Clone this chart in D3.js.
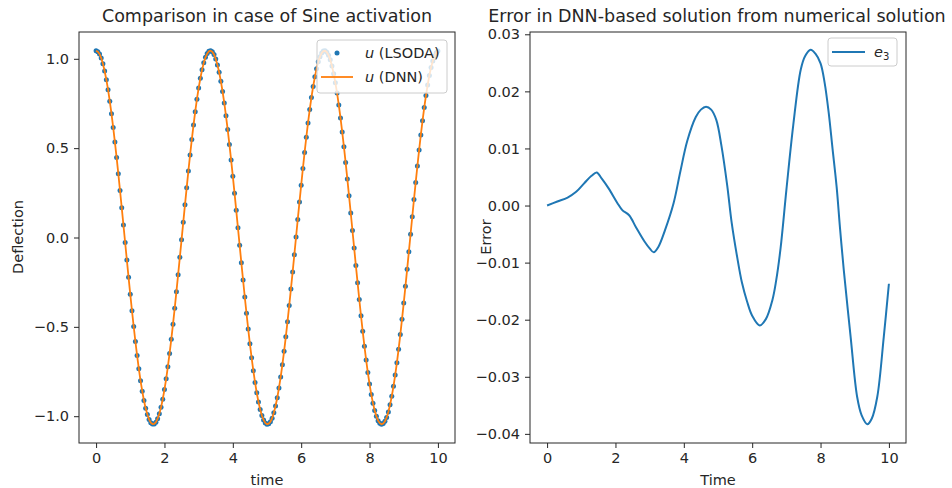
<!DOCTYPE html>
<html>
<head>
<meta charset="utf-8">
<script src="https://cdn.jsdelivr.net/npm/d3@7"></script>
<style>
  html, body { margin: 0; padding: 0; background: #fff; }
  svg { display: block; font-family: "DejaVu Sans", sans-serif; }
</style>
</head>
<body>
<svg id="chart" width="952" height="488"></svg>
<script>
// ---------------- DATA ----------------
// sampling step of the LSODA output (t from 0 to 10)
const tStep = 0.05;
// u (LSODA) deflection values (201 samples)
const uLsoda = [
  1.045,1.040,1.027,1.004,0.972,0.932,0.883,0.827,0.763,0.693,
  0.616,0.534,0.448,0.357,0.263,0.167,0.070,-0.028,-0.126,-0.223,
  -0.318,-0.410,-0.498,-0.582,-0.661,-0.734,-0.801,-0.860,-0.912,-0.956,
  -0.991,-1.018,-1.036,-1.044,-1.043,-1.034,-1.014,-0.986,-0.950,-0.905,
  -0.851,-0.791,-0.723,-0.649,-0.570,-0.485,-0.396,-0.303,-0.208,-0.111,
  -0.013,0.085,0.183,0.278,0.372,0.462,0.548,0.629,0.704,0.774,
  0.836,0.891,0.939,0.978,1.008,1.029,1.042,
  1.045,1.039,1.024,0.999,0.966,0.925,0.875,0.817,0.753,0.681,
  0.604,0.521,0.434,0.343,0.248,0.152,0.054,-0.044,-0.142,-0.238,
  -0.333,-0.424,-0.512,-0.595,-0.673,-0.745,-0.811,-0.869,-0.920,-0.962,
  -0.996,-1.021,-1.038,-1.045,-1.042,-1.031,-1.011,-0.981,-0.943,-0.897,
  -0.842,-0.781,-0.712,-0.637,-0.556,-0.471,-0.381,-0.288,-0.193,-0.096,
  0.003,0.101,0.198,0.293,0.386,0.476,0.561,0.641,0.716,0.784,
  0.845,0.899,0.945,0.983,1.012,1.032,1.043,
  1.045,1.037,1.020,0.995,0.960,0.917,0.866,0.808,0.742,0.669,
  0.591,0.508,0.420,0.328,0.233,0.137,0.039,-0.059,-0.157,-0.253,
  -0.347,-0.438,-0.525,-0.608,-0.685,-0.756,-0.820,-0.878,-0.927,-0.968,
  -1.001,-1.025,-1.039,-1.045,-1.041,-1.028,-1.007,-0.976,-0.936,-0.889,
  -0.833,-0.770,-0.701,-0.625,-0.543,-0.457,-0.367,-0.273,-0.178,-0.080,
  0.018,0.116,0.213,0.308,0.400,0.489,0.574,0.653,0.727,0.794,
  0.854,0.907,0.952,0.988,1.016,1.034,1.044
];
// u (DNN) — visually coincides with the LSODA curve
const uDnn = uLsoda;

// error curve e3 (time, value)
const errTime = [0.00,0.30,0.60,0.85,1.10,1.30,1.45,1.60,1.80,2.05,2.20,2.40,2.60,2.85,3.00,3.12,3.25,3.45,3.70,3.90,
  4.10,4.35,4.50,4.65,4.80,4.95,5.10,5.27,5.40,5.56,5.70,5.85,6.00,6.22,6.40,6.59,6.70,6.83,7.00,7.20,
  7.42,7.55,7.71,7.85,8.00,8.12,8.24,8.35,8.47,8.57,8.68,8.88,9.07,9.20,9.37,9.50,9.66,9.85,10.00];
const errValue = [0.0000,0.0007,0.0014,0.0024,0.0040,0.0052,0.0058,0.0047,0.0030,0.0005,-0.0008,-0.0017,-0.0038,-0.0063,-0.0075,-0.0082,-0.0073,-0.0043,0.0004,0.0060,
  0.0113,0.0155,0.0168,0.0173,0.0168,0.0150,0.0105,0.0035,-0.0030,-0.0090,-0.0135,-0.0168,-0.0193,-0.0210,-0.0199,-0.0166,-0.0132,-0.0075,0.0027,0.0140,
  0.0238,0.0262,0.0273,0.0266,0.0249,0.0215,0.0162,0.0100,0.0033,-0.0040,-0.0113,-0.0230,-0.0335,-0.0367,-0.0383,-0.0373,-0.0335,-0.0230,-0.0137];

// ticks
const xTicks = [0, 2, 4, 6, 8, 10];
const leftYTicks = [-1.0, -0.5, 0.0, 0.5, 1.0];
const rightYTicks = [-0.04, -0.03, -0.02, -0.01, 0.00, 0.01, 0.02, 0.03];

// texts
const leftTitle = "Comparison in case of Sine activation";
const rightTitle = "Error in DNN-based solution from numerical solution";

// ---------------- DRAWING ----------------
const svg = d3.select("#chart");
const blue = "#1f77b4", orange = "#ff7f0e", ink = "#262626";
const tickFont = 14.5, titleFont = 17.5;
const plotTop = 32, plotBottom = 443;
const fmtMinus = s => s.replace("-", "\u2212");

function panel(x0, x1, yDomain, yTicks, yFmt) {
  const x = d3.scaleLinear().domain([-0.5, 10.5]).range([x0, x1]);
  const y = d3.scaleLinear().domain(yDomain).range([plotBottom, plotTop]);
  const g = svg.append("g");
  const xAxis = d3.axisBottom(x).tickValues(xTicks).tickFormat(d3.format("d")).tickSize(5).tickPadding(5);
  const yAxis = d3.axisLeft(y).tickValues(yTicks).tickFormat(d => fmtMinus(yFmt(d))).tickSize(5).tickPadding(5);
  const gx = g.append("g").attr("transform", `translate(0,${plotBottom})`).call(xAxis);
  const gy = g.append("g").attr("transform", `translate(${x0},0)`).call(yAxis);
  [gx, gy].forEach(a => {
    a.select(".domain").remove();
    a.selectAll("line").attr("stroke", ink).attr("stroke-width", 1);
    a.selectAll("text").attr("fill", ink).style("font-size", tickFont + "px").style("font-family", "DejaVu Sans");
  });
  return { x, y, g };
}

function frame(p, x0, x1) {
  p.g.append("rect").attr("x", x0).attr("y", plotTop).attr("width", x1 - x0).attr("height", plotBottom - plotTop)
    .attr("fill", "none").attr("stroke", ink).attr("stroke-width", 1);
}

// ---- Left panel ----
const L = panel(79, 455, [-1.15, 1.15], leftYTicks, d3.format(".1f"));
const tVals = uLsoda.map((_, i) => i * tStep);
L.g.append("g").selectAll("circle").data(uLsoda).join("circle")
  .attr("cx", (d, i) => L.x(tVals[i])).attr("cy", d => L.y(d)).attr("r", 2.5).attr("fill", blue);
L.g.append("path").datum(uDnn)
  .attr("d", d3.line().x((d, i) => L.x(tVals[i])).y(d => L.y(d)))
  .attr("fill", "none").attr("stroke", orange).attr("stroke-width", 1.8);
frame(L, 79, 455);

svg.append("text").attr("x", 267).attr("y", 22).attr("text-anchor", "middle")
  .style("font-size", titleFont + "px").attr("fill", ink).text(leftTitle);
svg.append("text").attr("x", 267).attr("y", 485).attr("text-anchor", "middle")
  .style("font-size", tickFont + "px").attr("fill", ink).text("time");
svg.append("text").attr("transform", "translate(23,237) rotate(-90)").attr("text-anchor", "middle")
  .style("font-size", tickFont + "px").attr("fill", ink).text("Deflection");

// left legend
const lg = svg.append("g");
lg.append("rect").attr("x", 317).attr("y", 40).attr("width", 130).attr("height", 53).attr("rx", 3)
  .attr("fill", "#fff").attr("fill-opacity", 0.8).attr("stroke", "#cccccc").attr("stroke-width", 1);
lg.append("circle").attr("cx", 337).attr("cy", 53).attr("r", 2.5).attr("fill", blue);
lg.append("line").attr("x1", 321).attr("x2", 353).attr("y1", 77).attr("y2", 77)
  .attr("stroke", orange).attr("stroke-width", 1.8);
const lt1 = lg.append("text").attr("x", 365).attr("y", 58).style("font-size", tickFont + "px").attr("fill", ink);
lt1.append("tspan").style("font-style", "italic").text("u");
lt1.append("tspan").text(" (LSODA)");
const lt2 = lg.append("text").attr("x", 365).attr("y", 82).style("font-size", tickFont + "px").attr("fill", ink);
lt2.append("tspan").style("font-style", "italic").text("u");
lt2.append("tspan").text(" (DNN)");

// ---- Right panel ----
const R = panel(530, 906, [-0.0416, 0.0304], rightYTicks, d3.format(".2f"));
R.g.append("path").datum(errTime.map((t, i) => [t, errValue[i]]))
  .attr("d", d3.line().x(d => R.x(d[0])).y(d => R.y(d[1])).curve(d3.curveCatmullRom.alpha(0.5)))
  .attr("fill", "none").attr("stroke", blue).attr("stroke-width", 2);
frame(R, 530, 906);

svg.append("text").attr("x", 717).attr("y", 22).attr("text-anchor", "middle")
  .style("font-size", titleFont + "px").attr("fill", ink).text(rightTitle);
svg.append("text").attr("x", 718).attr("y", 485).attr("text-anchor", "middle")
  .style("font-size", tickFont + "px").attr("fill", ink).text("Time");
svg.append("text").attr("transform", "translate(491,237) rotate(-90)").attr("text-anchor", "middle")
  .style("font-size", tickFont + "px").attr("fill", ink).text("Error");

// right legend
const rg = svg.append("g");
rg.append("rect").attr("x", 828).attr("y", 38).attr("width", 69).attr("height", 28).attr("rx", 3)
  .attr("fill", "#fff").attr("fill-opacity", 0.8).attr("stroke", "#cccccc").attr("stroke-width", 1);
rg.append("line").attr("x1", 832).attr("x2", 865).attr("y1", 52).attr("y2", 52)
  .attr("stroke", blue).attr("stroke-width", 2);
const rt = rg.append("text").attr("x", 874).attr("y", 57).style("font-size", tickFont + "px").attr("fill", ink);
rt.append("tspan").style("font-style", "italic").text("e");
rt.append("tspan").attr("dy", 3).style("font-size", "10px").text("3");
</script>
</body>
</html>
